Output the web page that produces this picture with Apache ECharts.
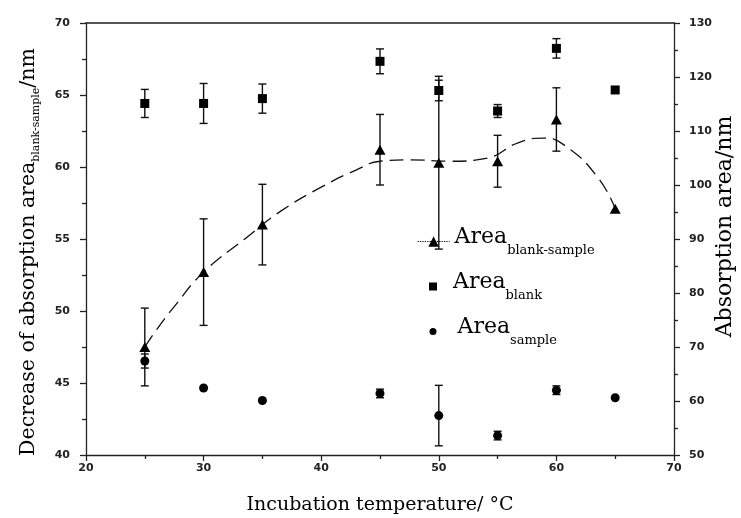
<!DOCTYPE html>
<html><head><meta charset="utf-8">
<script src="https://cdn.jsdelivr.net/npm/echarts@6/dist/echarts.min.js"></script>
<style>html,body{margin:0;padding:0;background:#fff}#c{width:741px;height:518px}</style>
</head><body><div id="c"></div>
<script>
// ---- data ----
const temps = [25, 30, 35, 45, 50, 55, 60, 65];
const diffVal = [47.5, 52.7, 56.0, 61.2, 60.3, 60.4, 63.3, 57.1];   // left axis
const diffErr = [2.7, 3.7, 2.8, 2.45, 6.0, 1.8, 2.2, 0];
const blankVal = [115.1, 115.1, 116.0, 122.9, 117.5, 113.7, 125.3, 117.6]; // right axis
const blankErr = [2.6, 3.7, 2.7, 2.3, 1.9, 1.2, 1.8, 0];
const sampleVal = [67.4, 62.4, 60.1, 61.4, 57.3, 53.6, 62.0, 60.6]; // right axis
const sampleErr = [1.3, 0, 0, 0.8, 5.6, 0.8, 0.8, 0];
const fitT = [25, 26, 27.5, 30, 33.5, 36.5, 40, 43, 45, 47.5, 51, 54, 56.8, 58.9, 60.7, 63.5, 65];
const fitV = [47.5, 48.7, 50.3, 52.7, 55.0, 56.9, 58.6, 59.8, 60.4, 60.5, 60.4, 60.6, 61.7, 62.0, 61.5, 59.3, 57.1];
const xRange = [20, 70, 10];
const leftRange = [40, 70, 5];
const rightRange = [50, 130, 10];
const seriesNames = ['blank-sample', 'blank', 'sample'];
const xTitle = 'Incubation temperature/ °C';
const rightTitle = 'Absorption area/nm';

const ink = '#000';
const axisColor = '#222';

function errSeries(vals, errs, yIdx) {
  return {
    type: 'custom', xAxisIndex: 0, yAxisIndex: yIdx, silent: true, z: 1,
    data: temps.map((t, i) => [t, vals[i], errs[i]]).filter(d => d[2] > 0),
    encode: { x: 0, y: 1 },
    renderItem: function (params, api) {
      const x = api.value(0), v = api.value(1), e = api.value(2);
      const hi = api.coord([x, v + e]), lo = api.coord([x, v - e]);
      const w = 4;
      const st = { stroke: '#111', lineWidth: 1.4 };
      return { type: 'group', children: [
        { type: 'line', shape: { x1: hi[0], y1: hi[1], x2: lo[0], y2: lo[1] }, style: st },
        { type: 'line', shape: { x1: hi[0] - w, y1: hi[1], x2: hi[0] + w, y2: hi[1] }, style: st },
        { type: 'line', shape: { x1: lo[0] - w, y1: lo[1], x2: lo[0] + w, y2: lo[1] }, style: st }
      ]};
    }
  };
}

const labelStyle = { fontFamily: 'DejaVu Sans', fontWeight: 'bold', fontSize: 11, color: '#222' };
const lineSt = { color: axisColor, width: 1.3 };

const legendRich = {
  a: { fontFamily: 'DejaVu Serif', fontSize: 22, lineHeight: 31, verticalAlign: 'top', color: '#000' },
  s: { fontFamily: 'DejaVu Serif', fontSize: 13, verticalAlign: 'bottom', color: '#000' }
};
function legendOf(name, left, top, w, h, pad, extra) {
  return {
    orient: 'vertical', left: left, top: top, padding: 0, itemWidth: w, itemHeight: h,
    selectedMode: false, textStyle: { rich: legendRich, padding: [0, 0, 0, pad] },
    formatter: n => '{a|Area}{s|' + n + '}',
    data: [Object.assign({ name: name }, extra)]
  };
}

const option = {
  animation: false,
  backgroundColor: '#fff',
  grid: { left: 86, right: 67, top: 23, bottom: 63, containLabel: false, outerBoundsMode: 'none' },
  legend: [
    legendOf(seriesNames[0], 417, 226, 32, 13, 0, { lineStyle: { type: 'dotted', opacity: 1, width: 1.2, color: ink } }),
    legendOf(seriesNames[1], 429, 271, 8, 8, 11, { icon: 'rect', itemStyle: { color: ink, opacity: 1 } }),
    legendOf(seriesNames[2], 429.5, 316, 7, 7, 16, { icon: 'circle', itemStyle: { color: ink, opacity: 1 } })
  ],
  xAxis: [
    { type: 'value', min: xRange[0], max: xRange[1], interval: xRange[2], position: 'bottom',
      axisLine: { show: true, onZero: false, lineStyle: lineSt },
      axisTick: { show: true, inside: false, length: 6, lineStyle: lineSt },
      minorTick: { show: true, splitNumber: 2, length: 4, lineStyle: lineSt },
      splitLine: { show: false },
      axisLabel: Object.assign({ margin: 8 }, labelStyle),
      name: xTitle, nameLocation: 'middle', nameGap: 41, nameMoveOverlap: false,
      nameTextStyle: { fontFamily: 'DejaVu Serif', fontSize: 19, color: ink } },
    { type: 'value', min: xRange[0], max: xRange[1], position: 'top',
      axisLine: { show: true, onZero: false, lineStyle: { color: axisColor, width: 1.6 } },
      axisTick: { show: false }, axisLabel: { show: false }, splitLine: { show: false } }
  ],
  yAxis: [
    { type: 'value', min: leftRange[0], max: leftRange[1], interval: leftRange[2], position: 'left',
      axisLine: { show: true, onZero: false, lineStyle: lineSt },
      axisTick: { show: true, inside: false, length: 6, lineStyle: lineSt },
      minorTick: { show: true, splitNumber: 2, length: 4, lineStyle: lineSt },
      splitLine: { show: false },
      axisLabel: Object.assign({ margin: 16 }, labelStyle),
      name: '{a|Decrease of absorption area}{s|blank-sample}{a|/nm}',
      nameLocation: 'middle', nameRotate: 90, nameGap: 44, nameMoveOverlap: false,
      nameTextStyle: { padding: [0, 26, 0, 0], rich: {
        a: { fontFamily: 'DejaVu Serif', fontSize: 20.5, lineHeight: 24, verticalAlign: 'top', color: ink },
        s: { fontFamily: 'DejaVu Serif', fontSize: 11, verticalAlign: 'bottom', color: ink }
      } } },
    { type: 'value', min: rightRange[0], max: rightRange[1], interval: rightRange[2], position: 'right',
      axisLine: { show: true, onZero: false, lineStyle: lineSt },
      axisTick: { show: true, inside: false, length: 6, lineStyle: lineSt },
      minorTick: { show: true, splitNumber: 2, length: 4, lineStyle: lineSt },
      splitLine: { show: false },
      axisLabel: Object.assign({ margin: 15 }, labelStyle),
      name: rightTitle, nameLocation: 'middle', nameRotate: 90, nameGap: 40, nameMoveOverlap: false,
      nameTextStyle: { fontFamily: 'DejaVu Serif', fontSize: 22, color: ink, padding: [0, 0, 0, 25] } }
  ],
  series: [
    { name: seriesNames[0], type: 'line', xAxisIndex: 0, yAxisIndex: 0, silent: true, z: 4,
      data: temps.map((t, i) => [t, diffVal[i]]),
      symbol: 'triangle', symbolSize: [11, 10], showSymbol: true,
      lineStyle: { opacity: 0 }, itemStyle: { color: ink, opacity: 1 } },
    { name: seriesNames[1], type: 'scatter', xAxisIndex: 0, yAxisIndex: 1, silent: true, z: 4,
      data: temps.map((t, i) => [t, blankVal[i]]),
      symbol: 'rect', symbolSize: 9, itemStyle: { color: ink, opacity: 1 } },
    { name: seriesNames[2], type: 'scatter', xAxisIndex: 0, yAxisIndex: 1, silent: true, z: 4,
      data: temps.map((t, i) => [t, sampleVal[i]]),
      symbol: 'circle', symbolSize: 9, itemStyle: { color: ink, opacity: 1 } },
    { name: 'fit', type: 'line', xAxisIndex: 0, yAxisIndex: 0, silent: true, z: 2,
      data: fitT.map((t, i) => [t, fitV[i]]), smooth: true, showSymbol: false, symbol: 'none',
      lineStyle: { type: [14, 7], color: '#111', width: 1.3 } },
    errSeries(diffVal, diffErr, 0),
    errSeries(blankVal, blankErr, 1),
    errSeries(sampleVal, sampleErr, 1)
  ]
};
const chart = echarts.init(document.getElementById('c'), null, { renderer: 'canvas' });
chart.setOption(option);
</script>
</body></html>
